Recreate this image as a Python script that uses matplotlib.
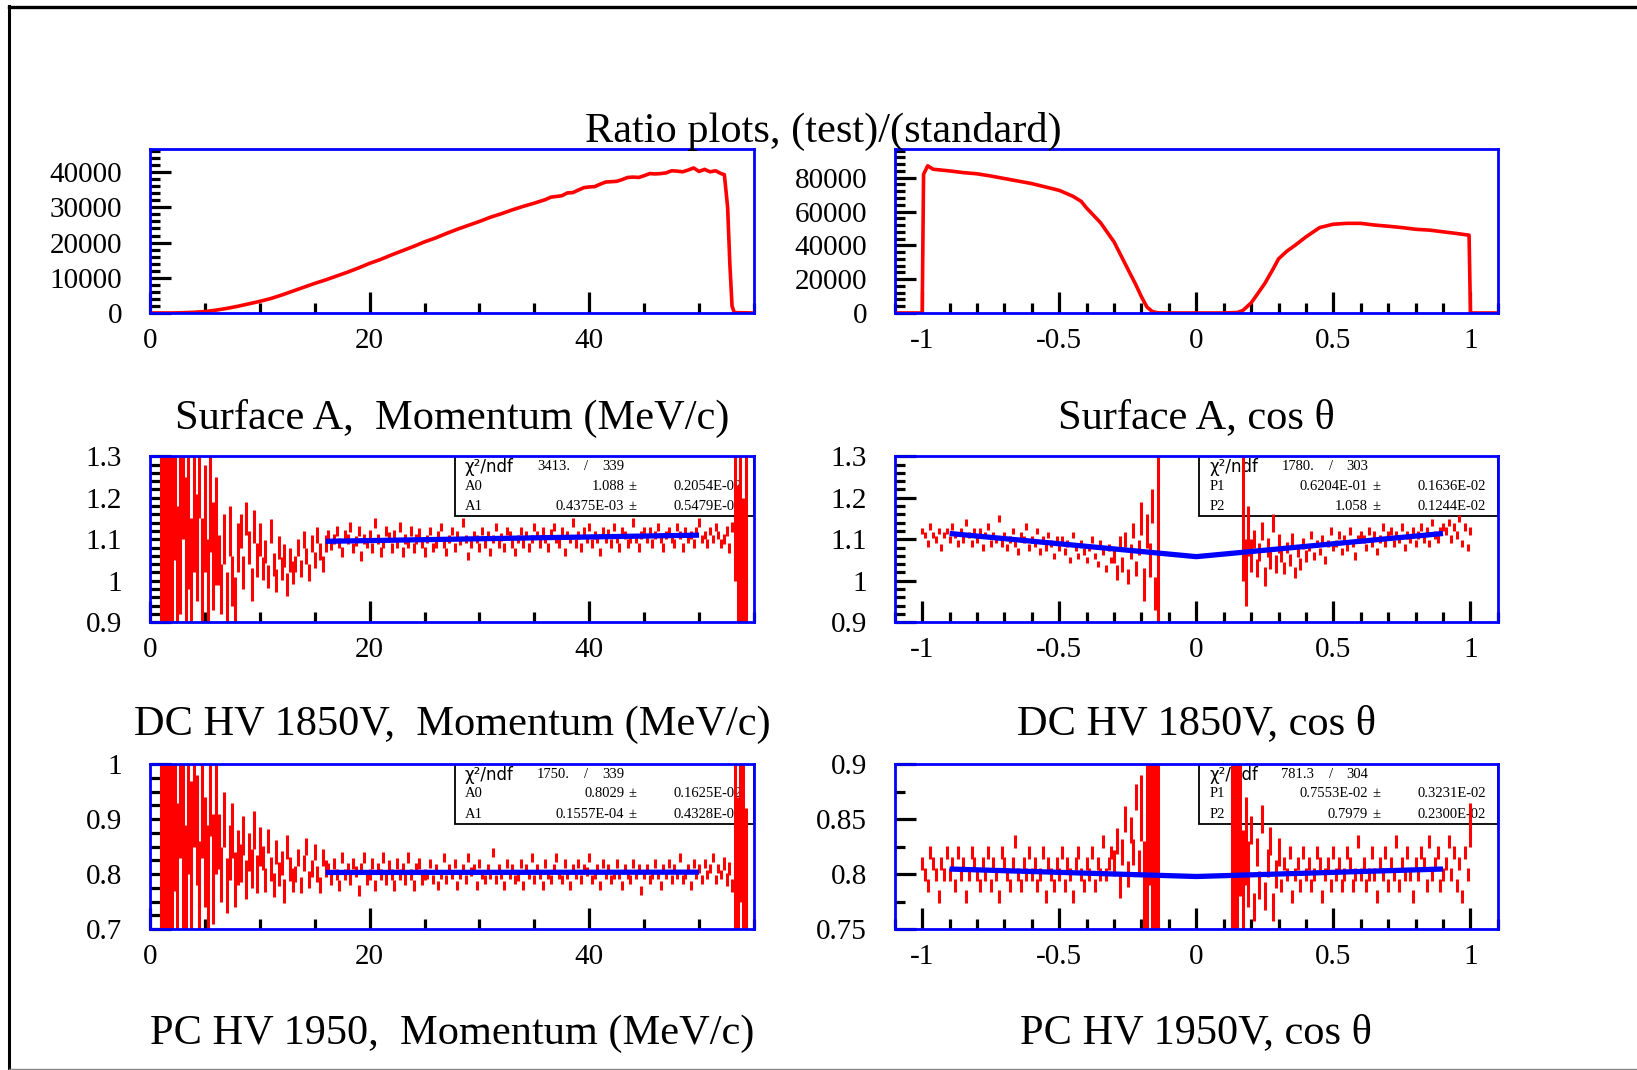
import numpy as np
import matplotlib
matplotlib.use("Agg")
import matplotlib.pyplot as plt
from matplotlib.ticker import MultipleLocator, FormatStrFormatter
from matplotlib.patches import Rectangle
from matplotlib.lines import Line2D

plt.rcParams['font.family'] = ['Liberation Serif', 'DejaVu Serif']
plt.rcParams['axes.unicode_minus'] = False

nan = np.nan

# ---------------- data ----------------
# Surface A momentum spectrum (counts)
mom_hist_x = [0, 1, 2, 3, 4, 5, 6, 7, 8, 9, 10, 11, 12, 13, 14, 15, 16, 17, 18, 19,
              20, 21, 22, 23, 24, 25, 26, 27, 28, 29, 30, 31, 32, 33, 34, 35,
              36, 36.5, 37, 37.5, 38, 38.5, 39, 39.5, 40, 40.5, 41, 41.5, 42, 42.5,
              43, 43.5, 44, 44.5, 45, 45.5, 46, 46.5, 47, 47.5, 48, 48.5, 49, 49.5,
              50, 50.5, 51, 51.5, 52, 52.3, 52.6, 52.8, 53.0, 53.2, 55]
mom_hist_y = [0, 0, 0, 80, 200, 400, 800, 1300, 1900, 2600,
              3300, 4100, 5100, 6200, 7300, 8400, 9400, 10500, 11600, 12800,
              14100, 15200, 16500, 17700, 18900, 20200, 21300, 22600, 23800, 24900,
              26000, 27200, 28200, 29300, 30300, 31200,
              32200, 32900, 33100, 33300, 34100, 34200, 34900, 35600, 35800, 35900,
              36600, 37200, 37300, 37400, 37900, 38500, 38600, 38500, 39000, 39600,
              39500, 39600, 39800, 40400, 40300, 40100, 40600, 41200, 40200, 40800,
              40100, 40400, 39600, 39300, 30000, 14000, 2000, 100, 0]

# Surface A cos(theta) spectrum (counts)
cos_hist_x = [-1.1, -1.0, -0.995, -0.98, -0.96, -0.93, -0.9, -0.85, -0.8, -0.75, -0.7, -0.65,
              -0.6, -0.55, -0.5, -0.45, -0.42, -0.4, -0.35, -0.3, -0.25, -0.22, -0.2, -0.18,
              -0.16, -0.14, -0.1, 0.0, 0.1, 0.15, 0.17, 0.2, 0.22, 0.25, 0.28, 0.3, 0.33, 0.36,
              0.4, 0.45, 0.5, 0.55, 0.6, 0.65, 0.7, 0.75, 0.8, 0.85, 0.9, 0.95, 0.995, 1.0, 1.1]
cos_hist_y = [0, 0, 82000, 87000, 85000, 84500, 84000, 83000, 82300, 81000, 79500, 78000,
              76500, 74500, 72500, 69000, 66000, 62000, 53500, 42000, 26000, 16500, 9500, 3500,
              800, 100, 0, 0, 0, 300, 1500, 6000, 10500, 17500, 26000, 32000, 36500, 40000,
              45000, 50500, 52500, 53000, 53000, 52000, 51300, 50500, 49500, 49000, 48000, 47000,
              46000, 0, 0]

mom_bin = 0.25   # momentum ratio bins (MeV/c), starting at 0
cos_bin = 0.01   # cos ratio bins, starting at -1

# DC HV 1850V ratio vs momentum
dc_mom_ratio = [
    nan, nan, nan, nan, 1.15, 1.05, 1.20, 0.95, 1.10, 1.25,
    0.98, 1.12, 1.30, 1.05, 1.18, 0.95, 1.22, 1.08, 1.28, 1.02,
    1.15, 0.97, 1.20, 1.06, 1.12, 1.05, 0.98, 1.10, 0.96, 1.12,
    1.00, 0.95, 1.08, 1.12, 1.02, 1.15, 1.08, 0.99, 1.13, 1.05,
    1.10, 1.03, 1.07, 1.01, 1.12, 1.04, 1.00, 1.08, 1.03, 1.06,
    0.99, 1.05, 1.02, 1.04, 1.08, 1.03, 1.10, 1.06, 1.02, 1.09,
    1.05, 1.11, 1.07, 1.04, 1.09, 1.11, 1.085, 1.10, 1.12, 1.09,
    1.07, 1.11, 1.10, 1.13, 1.08, 1.095, 1.12, 1.06, 1.10, 1.09,
    1.11, 1.08, 1.14, 1.10, 1.07, 1.09, 1.12, 1.105, 1.08, 1.11,
    1.09, 1.13, 1.07, 1.10, 1.09, 1.12, 1.08, 1.10, 1.115, 1.09,
    1.07, 1.10, 1.12, 1.08, 1.09, 1.11, 1.13, 1.09, 1.07, 1.10,
    1.12, 1.08, 1.11, 1.095, 1.14, 1.10, 1.06, 1.09, 1.11, 1.10,
    1.08, 1.12, 1.09, 1.11, 1.07, 1.10, 1.13, 1.09, 1.105, 1.08,
    1.12, 1.11, 1.09, 1.07, 1.10, 1.12, 1.09, 1.11, 1.08, 1.10,
    1.13, 1.11, 1.09, 1.12, 1.10, 1.08, 1.115, 1.13, 1.10, 1.09,
    1.12, 1.07, 1.11, 1.10, 1.14, 1.09, 1.11, 1.08, 1.12, 1.10,
    1.13, 1.09, 1.11, 1.10, 1.07, 1.12, 1.10, 1.115, 1.09, 1.13,
    1.10, 1.08, 1.12, 1.11, 1.09, 1.10, 1.14, 1.10, 1.08, 1.11,
    1.12, 1.10, 1.12, 1.09, 1.11, 1.13, 1.10, 1.08, 1.11, 1.12,
    1.10, 1.09, 1.13, 1.11, 1.08, 1.12, 1.10, 1.11, 1.09, 1.12,
    1.14, 1.10, 1.11, 1.09, 1.12, 1.10, 1.13, 1.11, 1.09, 1.10,
    1.12, 1.08, 1.13, 1.25, 0.98, 1.05, 0.95, 1.10, nan, nan,
    nan]
dc_mom_err_edges = [2, 4, 6, 8, 10, 13, 16, 25, 52, 53, 55.5]
dc_mom_err_vals = [0.4, 0.2, 0.13, 0.06, 0.04, 0.028, 0.02, 0.012, 0.01, 0.012, 0.25]

# PC HV 1950 ratio vs momentum
pc_mom_ratio = [
    nan, nan, nan, nan, 0.85, 0.75, 0.90, 0.80, 0.95, 0.92,
    0.78, 0.98, 0.85, 0.74, 0.95, 0.82, 1.00, 0.88, 0.76, 0.93,
    0.84, 0.79, 0.97, 0.81, 0.90, 0.86, 0.80, 0.90, 0.78, 0.84,
    0.88, 0.79, 0.83, 0.82, 0.87, 0.79, 0.84, 0.81, 0.88, 0.80,
    0.85, 0.83, 0.79, 0.86, 0.81, 0.78, 0.84, 0.80, 0.82, 0.77,
    0.85, 0.81, 0.79, 0.80, 0.83, 0.78, 0.82, 0.85, 0.79, 0.81,
    0.84, 0.80, 0.78, 0.83, 0.81, 0.81, 0.79, 0.82, 0.80, 0.78,
    0.83, 0.80, 0.81, 0.79, 0.82, 0.805, 0.77, 0.81, 0.83, 0.79,
    0.80, 0.82, 0.78, 0.81, 0.80, 0.83, 0.79, 0.815, 0.80, 0.78,
    0.82, 0.80, 0.81, 0.79, 0.83, 0.80, 0.78, 0.81, 0.82, 0.79,
    0.80, 0.80, 0.82, 0.79, 0.81, 0.78, 0.80, 0.83, 0.79, 0.81,
    0.80, 0.82, 0.78, 0.80, 0.81, 0.79, 0.83, 0.805, 0.81, 0.78,
    0.82, 0.80, 0.79, 0.81, 0.80, 0.84, 0.79, 0.81, 0.80, 0.78,
    0.82, 0.80, 0.81, 0.79, 0.795, 0.82, 0.78, 0.81, 0.80, 0.83,
    0.79, 0.81, 0.80, 0.78, 0.82, 0.80, 0.79, 0.81, 0.83, 0.80,
    0.79, 0.82, 0.80, 0.78, 0.81, 0.80, 0.82, 0.79, 0.81, 0.805,
    0.83, 0.79, 0.80, 0.81, 0.78, 0.82, 0.80, 0.81, 0.79, 0.80,
    0.82, 0.80, 0.78, 0.81, 0.80, 0.79, 0.82, 0.80, 0.81, 0.77,
    0.80, 0.81, 0.79, 0.80, 0.82, 0.80, 0.78, 0.81, 0.80, 0.82,
    0.79, 0.81, 0.80, 0.83, 0.79, 0.80, 0.81, 0.78, 0.82, 0.80,
    0.81, 0.79, 0.82, 0.80, 0.81, 0.83, 0.79, 0.81, 0.80, 0.82,
    0.79, 0.81, 0.78, 0.85, 0.74, 0.95, 0.80, 0.72, nan, nan,
    nan]
pc_mom_err_edges = [2, 4, 6, 8, 10, 13, 16, 25, 52, 53, 55.5]
pc_mom_err_vals = [0.3, 0.15, 0.1, 0.05, 0.035, 0.022, 0.015, 0.01, 0.008, 0.012, 0.2]

# DC HV 1850V ratio vs cos(theta)
dc_cos_ratio = [
    1.12, 1.11, 1.09, 1.13, 1.11, 1.10, 1.12, 1.08, 1.11, 1.12,
    1.10, 1.13, 1.11, 1.09, 1.12, 1.10, 1.14, 1.11, 1.09, 1.12,
    1.10, 1.12, 1.08, 1.11, 1.13, 1.09, 1.11, 1.10, 1.15, 1.09,
    1.11, 1.08, 1.10, 1.12, 1.09, 1.07, 1.11, 1.10, 1.13, 1.08,
    1.10, 1.09, 1.12, 1.07, 1.10, 1.08, 1.11, 1.09, 1.06, 1.10,
    1.08, 1.10, 1.07, 1.09, 1.05, 1.11, 1.08, 1.06, 1.09, 1.07,
    1.05, 1.08, 1.10, 1.06, 1.04, 1.09, 1.07, 1.03, 1.08, 1.05,
    1.06, 1.02, 1.09, 1.04, 1.10, 1.01, 1.07, 1.12, 1.03, 1.08,
    1.15, 0.99, 1.12, 1.05, 1.18, 0.97, 1.10, nan, nan, nan,
    nan, nan, nan, nan, nan, nan, nan, nan, nan, nan,
    nan, nan, nan, nan, nan, nan, nan, nan, nan, nan,
    nan, nan, nan, nan, nan, nan, nan, 1.15, 1.02, 1.12,
    1.06, 1.10, 1.03, 1.07, 1.12, 1.01, 1.08, 1.05, 1.14, 1.04,
    1.09, 1.06, 1.03, 1.08, 1.05, 1.10, 1.02, 1.07, 1.04, 1.09,
    1.06, 1.08, 1.11, 1.06, 1.09, 1.07, 1.10, 1.05, 1.09, 1.12,
    1.08, 1.09, 1.11, 1.07, 1.10, 1.08, 1.12, 1.09, 1.06, 1.10,
    1.11, 1.10, 1.08, 1.12, 1.09, 1.11, 1.07, 1.10, 1.13, 1.09,
    1.11, 1.12, 1.09, 1.11, 1.10, 1.13, 1.08, 1.11, 1.10, 1.12,
    1.09, 1.11, 1.13, 1.10, 1.12, 1.09, 1.14, 1.11, 1.10, 1.12,
    1.13, 1.12, 1.14, 1.10, 1.13, 1.11, 1.15, 1.09, 1.13, 1.08,
    1.12]
dc_cos_err_edges = [-0.305, -0.205, -0.145, -0.135, 0.165, 0.175, 0.185, 0.195, 0.205, 0.305, 0.405, 1.01]
dc_cos_err_vals = [0.008, 0.018, 0.04, 0.5, 0.0, 0.15, 0.08, 0.06, 0.04, 0.022, 0.014, 0.009]

# PC HV 1950V ratio vs cos(theta)
pc_cos_ratio = [
    0.81, 0.80, 0.79, 0.82, 0.81, 0.80, 0.78, 0.81, 0.80, 0.82,
    0.80, 0.81, 0.79, 0.82, 0.80, 0.81, 0.78, 0.80, 0.82, 0.81,
    0.80, 0.79, 0.81, 0.80, 0.82, 0.79, 0.81, 0.80, 0.78, 0.82,
    0.81, 0.80, 0.79, 0.81, 0.83, 0.80, 0.79, 0.81, 0.80, 0.82,
    0.80, 0.81, 0.79, 0.80, 0.82, 0.78, 0.81, 0.80, 0.79, 0.81,
    0.80, 0.82, 0.79, 0.81, 0.80, 0.78, 0.81, 0.82, 0.80, 0.79,
    0.81, 0.80, 0.82, 0.79, 0.81, 0.80, 0.83, 0.80, 0.81, 0.82,
    0.81, 0.83, 0.79, 0.82, 0.85, 0.80, 0.84, 0.82, 0.87, 0.81,
    0.86, 0.78, 0.82, 0.85, 0.80, 0.83, 0.82, nan, nan, nan,
    nan, nan, nan, nan, nan, nan, nan, nan, nan, nan,
    nan, nan, nan, nan, nan, nan, nan, nan, nan, nan,
    nan, nan, nan, 0.82, 0.85, 0.80, 0.84, 0.79, 0.83, 0.80,
    0.84, 0.77, 0.82, 0.79, 0.85, 0.78, 0.81, 0.83, 0.77, 0.80,
    0.82, 0.79, 0.81, 0.80, 0.82, 0.78, 0.80, 0.81, 0.79, 0.82,
    0.80, 0.81, 0.79, 0.80, 0.82, 0.81, 0.78, 0.80, 0.81, 0.79,
    0.82, 0.80, 0.81, 0.79, 0.80, 0.82, 0.81, 0.79, 0.80, 0.83,
    0.80, 0.81, 0.79, 0.80, 0.82, 0.80, 0.78, 0.81, 0.80, 0.82,
    0.79, 0.81, 0.80, 0.83, 0.79, 0.81, 0.80, 0.82, 0.80, 0.78,
    0.81, 0.80, 0.82, 0.81, 0.79, 0.83, 0.80, 0.81, 0.82, 0.79,
    0.80, 0.81, 0.83, 0.80, 0.82, 0.79, 0.81, 0.78, 0.82, 0.80,
    0.845]
pc_cos_err_edges = [-0.305, -0.205, -0.195, -0.185, -0.175, -0.165, -0.155, -0.145, -0.135,
                    0.125, 0.135, 0.145, 0.155, 0.165, 0.175, 0.185, 0.195, 0.305, 0.995, 1.01]
pc_cos_err_vals = [0.006, 0.012, 0.03, 0.05, 0.1, 0.06, 0.1, 0.08, 0.12,
                   0.0, 0.12, 0.1, 0.1, 0.06, 0.05, 0.04, 0.03, 0.013, 0.006, 0.02]

# fit results shown in the stat boxes
dc_mom_fit = {"chi2": "3413.", "ndf": "339", "names": ["A0", "A1"],
              "vals": ["1.088", "0.4375E-03"], "errs": ["0.2054E-02", "0.5479E-04"],
              "p": [1.088, 0.4375e-3], "range": [16, 50]}
pc_mom_fit = {"chi2": "1750.", "ndf": "339", "names": ["A0", "A1"],
              "vals": ["0.8029", "0.1557E-04"], "errs": ["0.1625E-02", "0.4328E-04"],
              "p": [0.8029, 0.1557e-4], "range": [16, 50]}
dc_cos_fit = {"chi2": "1780.", "ndf": "303", "names": ["P1", "P2"],
              "vals": ["0.6204E-01", "1.058"], "errs": ["0.1636E-02", "0.1244E-02"],
              "p": [0.6204e-1, 1.058], "range": [-0.9, 0.9]}
pc_cos_fit = {"chi2": "781.3", "ndf": "304", "names": ["P1", "P2"],
              "vals": ["0.7553E-02", "0.7979"], "errs": ["0.3231E-02", "0.2300E-02"],
              "p": [0.7553e-2, 0.7979], "range": [-0.9, 0.9]}

titles = ["Surface A,  Momentum (MeV/c)", "Surface A, cos \u03b8",
          "DC HV 1850V,  Momentum (MeV/c)", "DC HV 1850V, cos \u03b8",
          "PC HV 1950,  Momentum (MeV/c)", "PC HV 1950V, cos \u03b8"]
main_title = "Ratio plots, (test)/(standard)"

# ---------------- figure ----------------
W, H = 1637, 1070
fig = plt.figure(figsize=(W / 100, H / 100), dpi=100)

cols = [(0.0916, 0.369), (0.5466, 0.3684)]
rows = [(0.7075, 0.1533), (0.4185, 0.1551), (0.1316, 0.1542)]

TICKW = 2.3
SPINEW = 2.0


def style(ax, xlim, ylim, xmaj, xmin, ymaj, ymin):
    ax.set_xlim(*xlim)
    ax.set_ylim(*ylim)
    ax.xaxis.set_major_locator(MultipleLocator(xmaj))
    ax.xaxis.set_minor_locator(MultipleLocator(xmin))
    ax.yaxis.set_major_locator(MultipleLocator(ymaj))
    ax.yaxis.set_minor_locator(MultipleLocator(ymin))
    ax.xaxis.set_major_formatter(FormatStrFormatter('%g'))
    ax.yaxis.set_major_formatter(FormatStrFormatter('%g'))
    ax.tick_params(which='both', direction='in', top=False, right=False,
                   color='black', width=TICKW, labelsize=21)
    ax.tick_params(which='major', length=15)
    ax.tick_params(which='minor', length=7.5)
    ax.tick_params(axis='x', pad=11)
    ax.tick_params(axis='y', pad=20)
    for s in ax.spines.values():
        s.set_color('blue')
        s.set_linewidth(SPINEW)
        s.set_zorder(5)


def seg_err(x, edges, vals):
    idx = np.searchsorted(np.asarray(edges), x, side='left')
    idx = np.clip(idx, 0, len(vals) - 1)
    return np.asarray(vals)[idx]


def stat_box(ax, fit):
    ax.add_patch(Rectangle((0.505, 0.64), 0.495, 0.36, transform=ax.transAxes,
                           facecolor='none', edgecolor='black', lw=1.3, zorder=1))
    fs = 10.5
    ys = [0.937, 0.8205, 0.696]
    ax.text(0.5215, ys[0], "\u03c7\u00b2/ndf", transform=ax.transAxes, fontsize=12,
            family=['DejaVu Sans'], va='center', ha='left', zorder=1)
    ax.text(0.641, ys[0], fit["chi2"], transform=ax.transAxes, fontsize=fs, va='center', ha='left', zorder=1)
    ax.text(0.7227, ys[0], "/", transform=ax.transAxes, fontsize=fs, va='center', ha='center', zorder=1)
    ax.text(0.748, ys[0], fit["ndf"], transform=ax.transAxes, fontsize=fs, va='center', ha='left', zorder=1)
    for k in range(2):
        y = ys[k + 1]
        ax.text(0.5215, y, fit["names"][k], transform=ax.transAxes, fontsize=fs, va='center', ha='left', zorder=1)
        ax.text(0.785, y, fit["vals"][k], transform=ax.transAxes, fontsize=fs, va='center', ha='right', zorder=1)
        ax.text(0.792, y, "\u00b1", transform=ax.transAxes, fontsize=fs, va='center', ha='left', zorder=1)
        ax.text(0.866, y, fit["errs"][k], transform=ax.transAxes, fontsize=fs, va='center', ha='left', zorder=1)


def ratio_panel(ax, x, y, err, fit, kind):
    y = np.asarray(y, dtype=float)
    m = ~np.isnan(y)
    ax.vlines(x[m], y[m] - err[m], y[m] + err[m], colors='red', lw=2.2, zorder=2)
    lo, hi = fit["range"]
    if kind == 'mom':
        fx = np.array([lo, hi])
        fy = fit["p"][0] + fit["p"][1] * fx
    else:
        fx = np.array([lo, 0.0, hi])
        fy = fit["p"][1] + fit["p"][0] * np.abs(fx)
    ax.plot(fx, fy, color='blue', lw=3.8, solid_capstyle='butt', zorder=3)
    stat_box(ax, fit)


# top row: spectra
ax = fig.add_axes([cols[0][0], rows[0][0], cols[0][1], rows[0][1]])
ax.plot(mom_hist_x, mom_hist_y, color='red', lw=2.6, zorder=2)
style(ax, (0, 55), (0, 46600), 20, 5, 10000, 2000)

ax = fig.add_axes([cols[1][0], rows[0][0], cols[1][1], rows[0][1]])
ax.plot(cos_hist_x, cos_hist_y, color='red', lw=2.6, zorder=2)
style(ax, (-1.1, 1.1), (0, 97000), 0.5, 0.1, 20000, 4000)

# middle row
x_mom_dc = np.arange(len(dc_mom_ratio)) * mom_bin
ax = fig.add_axes([cols[0][0], rows[1][0], cols[0][1], rows[1][1]])
ratio_panel(ax, x_mom_dc, dc_mom_ratio, seg_err(x_mom_dc, dc_mom_err_edges, dc_mom_err_vals), dc_mom_fit, 'mom')
style(ax, (0, 55), (0.9, 1.3), 20, 5, 0.1, 0.02)

x_cos_dc = np.round(-1 + np.arange(len(dc_cos_ratio)) * cos_bin, 4)
ax = fig.add_axes([cols[1][0], rows[1][0], cols[1][1], rows[1][1]])
ratio_panel(ax, x_cos_dc, dc_cos_ratio, seg_err(x_cos_dc, dc_cos_err_edges, dc_cos_err_vals), dc_cos_fit, 'cos')
style(ax, (-1.1, 1.1), (0.9, 1.3), 0.5, 0.1, 0.1, 0.02)

# bottom row
x_mom_pc = np.arange(len(pc_mom_ratio)) * mom_bin
ax = fig.add_axes([cols[0][0], rows[2][0], cols[0][1], rows[2][1]])
ratio_panel(ax, x_mom_pc, pc_mom_ratio, seg_err(x_mom_pc, pc_mom_err_edges, pc_mom_err_vals), pc_mom_fit, 'mom')
style(ax, (0, 55), (0.7, 1.0), 20, 5, 0.1, 0.025)

x_cos_pc = np.round(-1 + np.arange(len(pc_cos_ratio)) * cos_bin, 4)
ax = fig.add_axes([cols[1][0], rows[2][0], cols[1][1], rows[2][1]])
ratio_panel(ax, x_cos_pc, pc_cos_ratio, seg_err(x_cos_pc, pc_cos_err_edges, pc_cos_err_vals), pc_cos_fit, 'cos')
style(ax, (-1.1, 1.1), (0.75, 0.9), 0.5, 0.1, 0.05, 0.025)

# titles
fig.text(0.5032, 1 - 142 / H, main_title, ha='center', va='baseline', fontsize=30.5)
title_y = [1 - 428.5 / H, 1 - 734.5 / H, 1 - 1043.5 / H]
for r in range(3):
    for c in range(2):
        cx = cols[c][0] + cols[c][1] / 2
        fig.text(cx, title_y[r], titles[2 * r + c], ha='center', va='baseline', fontsize=30.5)

# page frame
fig.add_artist(Line2D([9 / W, 9 / W], [1 - 6 / H, 1 - 1068.5 / H], transform=fig.transFigure,
                      color='black', lw=2.2))
fig.add_artist(Line2D([9 / W, 1], [1 - 6.5 / H, 1 - 6.5 / H], transform=fig.transFigure,
                      color='black', lw=2.4))
fig.add_artist(Line2D([9 / W, 1], [1 - 1068.8 / H, 1 - 1068.8 / H], transform=fig.transFigure,
                      color='#888888', lw=1.0))

fig.savefig("out.png", dpi=100, facecolor='white')
